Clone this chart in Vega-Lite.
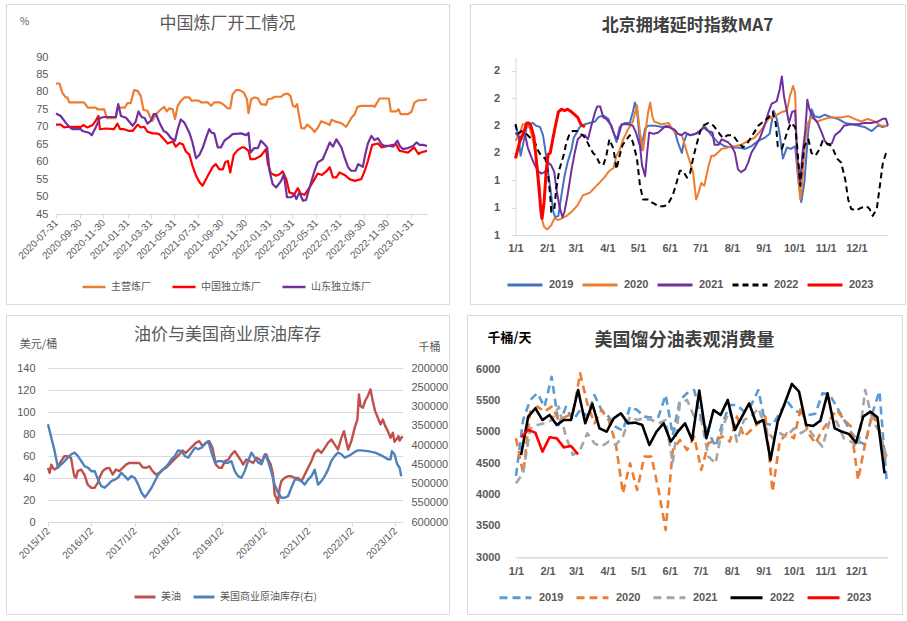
{
"$schema": "https://vega.github.io/schema/vega-lite/v6.json",
"background": "white",
"padding": {"left": 5, "top": 3, "right": 5, "bottom": 5},
"config": {
  "view": {"stroke": "#d9d9d9", "strokeWidth": 1},
  "font": "Noto Sans CJK SC",
  "axis": {"grid": false, "labelColor": "#595959", "domainColor": "#d9d9d9", "tickColor": "#d9d9d9", "labelFlush": false, "labelOverlap": false},
  "legend": {"padding": 0, "labelColor": "#595959", "symbolType": "stroke"},
  "line": {"strokeCap": "butt", "strokeJoin": "round"}
},
"spacing": 9,
"resolve": {"scale": {"color": "independent", "strokeDash": "independent"}, "legend": {"color": "independent", "strokeDash": "independent"}},
"datasets": {
"p1": [
{"s":"主营炼厂","d":"2020-07-31","v":82.4},{"s":"主营炼厂","d":"2020-08-09","v":82.4},{"s":"主营炼厂","d":"2020-08-16","v":79.8},{"s":"主营炼厂","d":"2020-08-25","v":78.4},{"s":"主营炼厂","d":"2020-08-29","v":78.4},{"s":"主营炼厂","d":"2020-09-03","v":77.0},{"s":"主营炼厂","d":"2020-10-11","v":77.0},{"s":"主营炼厂","d":"2020-10-21","v":75.5},{"s":"主营炼厂","d":"2020-11-10","v":75.5},{"s":"主营炼厂","d":"2020-11-15","v":75.0},{"s":"主营炼厂","d":"2020-12-02","v":75.0},{"s":"主营炼厂","d":"2020-12-09","v":72.5},{"s":"主营炼厂","d":"2020-12-31","v":72.5},{"s":"主营炼厂","d":"2021-01-05","v":75.5},{"s":"主营炼厂","d":"2021-01-24","v":75.5},{"s":"主营炼厂","d":"2021-01-31","v":76.8},{"s":"主营炼厂","d":"2021-02-08","v":76.8},{"s":"主营炼厂","d":"2021-02-17","v":80.5},{"s":"主营炼厂","d":"2021-02-26","v":80.3},{"s":"主营炼厂","d":"2021-03-06","v":78.8},{"s":"主营炼厂","d":"2021-03-13","v":74.8},{"s":"主营炼厂","d":"2021-03-23","v":74.6},{"s":"主营炼厂","d":"2021-03-30","v":72.8},{"s":"主营炼厂","d":"2021-04-05","v":71.7},{"s":"主营炼厂","d":"2021-04-14","v":73.6},{"s":"主营炼厂","d":"2021-04-27","v":75.0},{"s":"主营炼厂","d":"2021-05-05","v":75.7},{"s":"主营炼厂","d":"2021-05-12","v":74.4},{"s":"主营炼厂","d":"2021-05-18","v":75.3},{"s":"主营炼厂","d":"2021-05-27","v":75.0},{"s":"主营炼厂","d":"2021-06-02","v":72.2},{"s":"主营炼厂","d":"2021-06-09","v":76.0},{"s":"主营炼厂","d":"2021-06-17","v":77.4},{"s":"主营炼厂","d":"2021-06-26","v":78.4},{"s":"主营炼厂","d":"2021-07-09","v":78.4},{"s":"主营炼厂","d":"2021-07-15","v":77.4},{"s":"主营炼厂","d":"2021-07-22","v":77.6},{"s":"主营炼厂","d":"2021-08-04","v":77.4},{"s":"主营炼厂","d":"2021-08-08","v":77.0},{"s":"主营炼厂","d":"2021-08-25","v":77.0},{"s":"主营炼厂","d":"2021-09-03","v":76.0},{"s":"主营炼厂","d":"2021-09-11","v":77.0},{"s":"主营炼厂","d":"2021-09-24","v":77.0},{"s":"主营炼厂","d":"2021-10-03","v":76.5},{"s":"主营炼厂","d":"2021-10-16","v":75.3},{"s":"主营炼厂","d":"2021-10-22","v":75.3},{"s":"主营炼厂","d":"2021-10-28","v":79.3},{"s":"主营炼厂","d":"2021-11-06","v":80.5},{"s":"主营炼厂","d":"2021-11-15","v":80.5},{"s":"主营炼厂","d":"2021-11-26","v":79.8},{"s":"主营炼厂","d":"2021-12-04","v":77.9},{"s":"主营炼厂","d":"2021-12-08","v":73.9},{"s":"主营炼厂","d":"2021-12-15","v":77.9},{"s":"主营炼厂","d":"2021-12-23","v":78.4},{"s":"主营炼厂","d":"2022-01-01","v":78.2},{"s":"主营炼厂","d":"2022-01-09","v":76.5},{"s":"主营炼厂","d":"2022-01-22","v":76.3},{"s":"主营炼厂","d":"2022-01-27","v":77.9},{"s":"主营炼厂","d":"2022-02-06","v":78.1},{"s":"主营炼厂","d":"2022-02-13","v":78.6},{"s":"主营炼厂","d":"2022-03-02","v":78.6},{"s":"主营炼厂","d":"2022-03-09","v":79.3},{"s":"主营炼厂","d":"2022-03-19","v":79.5},{"s":"主营炼厂","d":"2022-03-26","v":78.8},{"s":"主营炼厂","d":"2022-04-01","v":76.0},{"s":"主营炼厂","d":"2022-04-07","v":75.7},{"s":"主营炼厂","d":"2022-04-12","v":76.5},{"s":"主营炼厂","d":"2022-04-18","v":72.6},{"s":"主营炼厂","d":"2022-04-23","v":69.6},{"s":"主营炼厂","d":"2022-05-01","v":69.5},{"s":"主营炼厂","d":"2022-05-08","v":70.6},{"s":"主营炼厂","d":"2022-05-18","v":69.7},{"s":"主营炼厂","d":"2022-05-27","v":68.5},{"s":"主营炼厂","d":"2022-06-04","v":69.7},{"s":"主营炼厂","d":"2022-06-13","v":71.6},{"s":"主营炼厂","d":"2022-06-26","v":71.0},{"s":"主营炼厂","d":"2022-07-05","v":70.5},{"s":"主营炼厂","d":"2022-07-09","v":72.0},{"s":"主营炼厂","d":"2022-07-22","v":71.4},{"s":"主营炼厂","d":"2022-07-30","v":71.2},{"s":"主营炼厂","d":"2022-08-08","v":70.7},{"s":"主营炼厂","d":"2022-08-16","v":70.0},{"s":"主营炼厂","d":"2022-08-25","v":71.6},{"s":"主营炼厂","d":"2022-08-29","v":72.5},{"s":"主营炼厂","d":"2022-09-07","v":73.6},{"s":"主营炼厂","d":"2022-09-14","v":75.7},{"s":"主营炼厂","d":"2022-09-24","v":76.0},{"s":"主营炼厂","d":"2022-10-24","v":76.0},{"s":"主营炼厂","d":"2022-10-28","v":75.7},{"s":"主营炼厂","d":"2022-11-10","v":78.1},{"s":"主营炼厂","d":"2022-12-04","v":78.1},{"s":"主营炼厂","d":"2022-12-09","v":74.4},{"s":"主营炼厂","d":"2022-12-23","v":74.4},{"s":"主营炼厂","d":"2022-12-29","v":75.0},{"s":"主营炼厂","d":"2023-01-03","v":73.6},{"s":"主营炼厂","d":"2023-01-22","v":73.6},{"s":"主营炼厂","d":"2023-01-31","v":74.3},{"s":"主营炼厂","d":"2023-02-08","v":77.0},{"s":"主营炼厂","d":"2023-02-18","v":77.6},{"s":"主营炼厂","d":"2023-03-02","v":77.6},{"s":"主营炼厂","d":"2023-03-12","v":77.9},
{"s":"中国独立炼厂","d":"2020-07-31","v":70.6},{"s":"中国独立炼厂","d":"2020-08-12","v":70.6},{"s":"中国独立炼厂","d":"2020-08-21","v":69.8},{"s":"中国独立炼厂","d":"2020-08-29","v":70.0},{"s":"中国独立炼厂","d":"2020-09-11","v":70.0},{"s":"中国独立炼厂","d":"2020-10-03","v":70.0},{"s":"中国独立炼厂","d":"2020-10-09","v":70.5},{"s":"中国独立炼厂","d":"2020-10-20","v":69.8},{"s":"中国独立炼厂","d":"2020-11-02","v":70.5},{"s":"中国独立炼厂","d":"2020-11-10","v":71.7},{"s":"中国独立炼厂","d":"2020-11-17","v":73.1},{"s":"中国独立炼厂","d":"2020-11-21","v":69.3},{"s":"中国独立炼厂","d":"2020-12-06","v":69.5},{"s":"中国独立炼厂","d":"2020-12-27","v":69.3},{"s":"中国独立炼厂","d":"2021-01-05","v":70.9},{"s":"中国独立炼厂","d":"2021-01-12","v":69.3},{"s":"中国独立炼厂","d":"2021-01-22","v":69.3},{"s":"中国独立炼厂","d":"2021-02-04","v":68.8},{"s":"中国独立炼厂","d":"2021-02-13","v":68.8},{"s":"中国独立炼厂","d":"2021-02-26","v":70.6},{"s":"中国独立炼厂","d":"2021-03-06","v":69.8},{"s":"中国独立炼厂","d":"2021-03-15","v":70.0},{"s":"中国独立炼厂","d":"2021-03-23","v":68.6},{"s":"中国独立炼厂","d":"2021-04-05","v":68.1},{"s":"中国独立炼厂","d":"2021-04-14","v":68.1},{"s":"中国独立炼厂","d":"2021-04-22","v":67.9},{"s":"中国独立炼厂","d":"2021-05-05","v":66.4},{"s":"中国独立炼厂","d":"2021-05-14","v":65.2},{"s":"中国独立炼厂","d":"2021-05-27","v":65.8},{"s":"中国独立炼厂","d":"2021-06-04","v":64.3},{"s":"中国独立炼厂","d":"2021-06-13","v":65.3},{"s":"中国独立炼厂","d":"2021-06-22","v":65.0},{"s":"中国独立炼厂","d":"2021-06-30","v":62.9},{"s":"中国独立炼厂","d":"2021-07-09","v":62.0},{"s":"中国独立炼厂","d":"2021-07-17","v":58.8},{"s":"中国独立炼厂","d":"2021-07-26","v":56.0},{"s":"中国独立炼厂","d":"2021-08-04","v":54.1},{"s":"中国独立炼厂","d":"2021-08-12","v":53.1},{"s":"中国独立炼厂","d":"2021-08-21","v":55.0},{"s":"中国独立炼厂","d":"2021-08-29","v":56.7},{"s":"中国独立炼厂","d":"2021-09-07","v":58.5},{"s":"中国独立炼厂","d":"2021-09-15","v":59.3},{"s":"中国独立炼厂","d":"2021-09-24","v":57.8},{"s":"中国独立炼厂","d":"2021-10-03","v":57.8},{"s":"中国独立炼厂","d":"2021-10-09","v":59.8},{"s":"中国独立炼厂","d":"2021-10-16","v":60.2},{"s":"中国独立炼厂","d":"2021-10-22","v":56.9},{"s":"中国独立炼厂","d":"2021-10-31","v":62.0},{"s":"中国独立炼厂","d":"2021-11-10","v":63.3},{"s":"中国独立炼厂","d":"2021-11-21","v":64.1},{"s":"中国独立炼厂","d":"2021-11-27","v":64.1},{"s":"中国独立炼厂","d":"2021-12-08","v":63.1},{"s":"中国独立炼厂","d":"2021-12-13","v":60.7},{"s":"中国独立炼厂","d":"2021-12-23","v":60.7},{"s":"中国独立炼厂","d":"2022-01-09","v":61.7},{"s":"中国独立炼厂","d":"2022-01-22","v":63.6},{"s":"中国独立炼厂","d":"2022-01-27","v":59.3},{"s":"中国独立炼厂","d":"2022-02-04","v":56.6},{"s":"中国独立炼厂","d":"2022-02-17","v":56.0},{"s":"中国独立炼厂","d":"2022-02-26","v":56.4},{"s":"中国独立炼厂","d":"2022-03-06","v":57.2},{"s":"中国独立炼厂","d":"2022-03-15","v":55.0},{"s":"中国独立炼厂","d":"2022-03-23","v":51.2},{"s":"中国独立炼厂","d":"2022-04-05","v":50.7},{"s":"中国独立炼厂","d":"2022-04-14","v":52.4},{"s":"中国独立炼厂","d":"2022-04-21","v":50.9},{"s":"中国独立炼厂","d":"2022-05-01","v":50.5},{"s":"中国独立炼厂","d":"2022-05-14","v":52.6},{"s":"中国独立炼厂","d":"2022-05-27","v":55.0},{"s":"中国独立炼厂","d":"2022-06-04","v":56.6},{"s":"中国独立炼厂","d":"2022-06-15","v":56.2},{"s":"中国独立炼厂","d":"2022-06-26","v":57.2},{"s":"中国独立炼厂","d":"2022-07-05","v":58.4},{"s":"中国独立炼厂","d":"2022-07-13","v":55.5},{"s":"中国独立炼厂","d":"2022-07-22","v":55.5},{"s":"中国独立炼厂","d":"2022-07-30","v":56.9},{"s":"中国独立炼厂","d":"2022-08-12","v":56.2},{"s":"中国独立炼厂","d":"2022-08-25","v":55.0},{"s":"中国独立炼厂","d":"2022-09-07","v":54.5},{"s":"中国独立炼厂","d":"2022-09-24","v":55.0},{"s":"中国独立炼厂","d":"2022-10-03","v":57.4},{"s":"中国独立炼厂","d":"2022-10-11","v":60.2},{"s":"中国独立炼厂","d":"2022-10-22","v":64.8},{"s":"中国独立炼厂","d":"2022-11-06","v":65.2},{"s":"中国独立炼厂","d":"2022-11-15","v":64.1},{"s":"中国独立炼厂","d":"2022-12-02","v":64.5},{"s":"中国独立炼厂","d":"2022-12-15","v":64.8},{"s":"中国独立炼厂","d":"2022-12-23","v":64.8},{"s":"中国独立炼厂","d":"2023-01-01","v":63.1},{"s":"中国独立炼厂","d":"2023-01-09","v":62.9},{"s":"中国独立炼厂","d":"2023-01-22","v":62.6},{"s":"中国独立炼厂","d":"2023-02-07","v":64.1},{"s":"中国独立炼厂","d":"2023-02-18","v":62.2},{"s":"中国独立炼厂","d":"2023-02-26","v":62.7},{"s":"中国独立炼厂","d":"2023-03-12","v":63.1},
{"s":"山东独立炼厂","d":"2020-07-31","v":73.8},{"s":"山东独立炼厂","d":"2020-08-12","v":73.1},{"s":"山东独立炼厂","d":"2020-08-25","v":71.2},{"s":"山东独立炼厂","d":"2020-09-03","v":70.0},{"s":"山东独立炼厂","d":"2020-09-11","v":69.3},{"s":"山东独立炼厂","d":"2020-10-03","v":69.3},{"s":"山东独立炼厂","d":"2020-10-07","v":68.8},{"s":"山东独立炼厂","d":"2020-10-24","v":68.3},{"s":"山东独立炼厂","d":"2020-10-31","v":67.6},{"s":"山东独立炼厂","d":"2020-11-10","v":69.8},{"s":"山东独立炼厂","d":"2020-11-21","v":72.5},{"s":"山东独立炼厂","d":"2020-12-02","v":72.8},{"s":"山东独立炼厂","d":"2020-12-15","v":72.8},{"s":"山东独立炼厂","d":"2021-01-01","v":72.8},{"s":"山东独立炼厂","d":"2021-01-07","v":76.5},{"s":"山东独立炼厂","d":"2021-01-14","v":73.1},{"s":"山东独立炼厂","d":"2021-01-27","v":72.6},{"s":"山东独立炼厂","d":"2021-02-13","v":70.3},{"s":"山东独立炼厂","d":"2021-02-21","v":71.5},{"s":"山东独立炼厂","d":"2021-02-28","v":74.4},{"s":"山东独立炼厂","d":"2021-03-08","v":72.8},{"s":"山东独立炼厂","d":"2021-03-16","v":72.5},{"s":"山东独立炼厂","d":"2021-03-23","v":70.9},{"s":"山东独立炼厂","d":"2021-04-01","v":71.7},{"s":"山东独立炼厂","d":"2021-04-08","v":73.6},{"s":"山东独立炼厂","d":"2021-04-14","v":73.6},{"s":"山东独立炼厂","d":"2021-04-25","v":70.7},{"s":"山东独立炼厂","d":"2021-05-04","v":68.8},{"s":"山东独立炼厂","d":"2021-05-12","v":68.3},{"s":"山东独立炼厂","d":"2021-05-23","v":66.7},{"s":"山东独立炼厂","d":"2021-06-02","v":66.0},{"s":"山东独立炼厂","d":"2021-06-09","v":69.3},{"s":"山东独立炼厂","d":"2021-06-17","v":72.1},{"s":"山东独立炼厂","d":"2021-06-26","v":71.2},{"s":"山东独立炼厂","d":"2021-07-09","v":68.3},{"s":"山东独立炼厂","d":"2021-07-17","v":65.5},{"s":"山东独立炼厂","d":"2021-07-26","v":61.0},{"s":"山东独立炼厂","d":"2021-08-04","v":62.0},{"s":"山东独立炼厂","d":"2021-08-12","v":63.9},{"s":"山东独立炼厂","d":"2021-08-21","v":66.9},{"s":"山东独立炼厂","d":"2021-08-29","v":69.3},{"s":"山东独立炼厂","d":"2021-09-04","v":68.3},{"s":"山东独立炼厂","d":"2021-09-11","v":68.1},{"s":"山东独立炼厂","d":"2021-09-20","v":64.1},{"s":"山东独立炼厂","d":"2021-09-28","v":64.1},{"s":"山东独立炼厂","d":"2021-10-07","v":66.0},{"s":"山东独立炼厂","d":"2021-10-20","v":67.1},{"s":"山东独立炼厂","d":"2021-10-28","v":67.9},{"s":"山东独立炼厂","d":"2021-11-19","v":68.1},{"s":"山东独立炼厂","d":"2021-12-02","v":67.6},{"s":"山东独立炼厂","d":"2021-12-08","v":68.3},{"s":"山东独立炼厂","d":"2021-12-13","v":62.6},{"s":"山东独立炼厂","d":"2021-12-23","v":63.9},{"s":"山东独立炼厂","d":"2022-01-01","v":63.9},{"s":"山东独立炼厂","d":"2022-01-09","v":66.0},{"s":"山东独立炼厂","d":"2022-01-18","v":65.0},{"s":"山东独立炼厂","d":"2022-01-25","v":64.1},{"s":"山东独立炼厂","d":"2022-01-31","v":57.4},{"s":"山东独立炼厂","d":"2022-02-08","v":53.6},{"s":"山东独立炼厂","d":"2022-02-17","v":52.6},{"s":"山东独立炼厂","d":"2022-03-02","v":54.5},{"s":"山东独立炼厂","d":"2022-03-09","v":56.4},{"s":"山东独立炼厂","d":"2022-03-17","v":49.8},{"s":"山东独立炼厂","d":"2022-03-28","v":49.8},{"s":"山东独立炼厂","d":"2022-04-05","v":50.5},{"s":"山东独立炼厂","d":"2022-04-10","v":49.3},{"s":"山东独立炼厂","d":"2022-04-18","v":51.2},{"s":"山东独立炼厂","d":"2022-04-27","v":48.8},{"s":"山东独立炼厂","d":"2022-05-05","v":49.0},{"s":"山东独立炼厂","d":"2022-05-14","v":52.6},{"s":"山东独立炼厂","d":"2022-05-27","v":57.4},{"s":"山东独立炼厂","d":"2022-06-04","v":59.8},{"s":"山东独立炼厂","d":"2022-06-17","v":60.7},{"s":"山东独立炼厂","d":"2022-06-26","v":63.1},{"s":"山东独立炼厂","d":"2022-07-05","v":65.5},{"s":"山东独立炼厂","d":"2022-07-13","v":64.3},{"s":"山东独立炼厂","d":"2022-07-22","v":66.4},{"s":"山东独立炼厂","d":"2022-08-04","v":64.1},{"s":"山东独立炼厂","d":"2022-08-12","v":61.2},{"s":"山东独立炼厂","d":"2022-08-21","v":58.4},{"s":"山东独立炼厂","d":"2022-08-29","v":57.4},{"s":"山东独立炼厂","d":"2022-09-09","v":57.4},{"s":"山东独立炼厂","d":"2022-09-16","v":59.3},{"s":"山东独立炼厂","d":"2022-09-28","v":58.5},{"s":"山东独立炼厂","d":"2022-10-04","v":62.0},{"s":"山东独立炼厂","d":"2022-10-11","v":65.2},{"s":"山东独立炼厂","d":"2022-10-20","v":67.4},{"s":"山东独立炼厂","d":"2022-10-28","v":66.2},{"s":"山东独立炼厂","d":"2022-11-06","v":66.7},{"s":"山东独立炼厂","d":"2022-11-15","v":65.0},{"s":"山东独立炼厂","d":"2022-11-23","v":64.5},{"s":"山东独立炼厂","d":"2022-12-06","v":64.5},{"s":"山东独立炼厂","d":"2022-12-15","v":64.3},{"s":"山东独立炼厂","d":"2022-12-26","v":66.0},{"s":"山东独立炼厂","d":"2023-01-01","v":64.5},{"s":"山东独立炼厂","d":"2023-01-09","v":63.6},{"s":"山东独立炼厂","d":"2023-01-22","v":63.9},{"s":"山东独立炼厂","d":"2023-02-04","v":64.5},{"s":"山东独立炼厂","d":"2023-02-13","v":65.5},{"s":"山东独立炼厂","d":"2023-02-21","v":64.8},{"s":"山东独立炼厂","d":"2023-03-02","v":64.8},{"s":"山东独立炼厂","d":"2023-03-12","v":64.5}
],
"p2": [
{"s":"2019","d":0,"v":1.81},{"s":"2019","d":3,"v":1.72},{"s":"2019","d":5,"v":1.58},{"s":"2019","d":7,"v":1.65},{"s":"2019","d":11,"v":1.79},{"s":"2019","d":14,"v":1.81},{"s":"2019","d":17,"v":1.82},{"s":"2019","d":20,"v":1.8},{"s":"2019","d":24,"v":1.79},{"s":"2019","d":27,"v":1.73},{"s":"2019","d":29,"v":1.63},{"s":"2019","d":32,"v":1.46},{"s":"2019","d":35,"v":1.29},{"s":"2019","d":37,"v":1.17},{"s":"2019","d":39,"v":1.13},{"s":"2019","d":42,"v":1.14},{"s":"2019","d":45,"v":1.29},{"s":"2019","d":48,"v":1.43},{"s":"2019","d":51,"v":1.53},{"s":"2019","d":55,"v":1.63},{"s":"2019","d":57,"v":1.71},{"s":"2019","d":60,"v":1.75},{"s":"2019","d":63,"v":1.79},{"s":"2019","d":68,"v":1.81},{"s":"2019","d":73,"v":1.82},{"s":"2019","d":78,"v":1.83},{"s":"2019","d":81,"v":1.86},{"s":"2019","d":84,"v":1.87},{"s":"2019","d":87,"v":1.87},{"s":"2019","d":91,"v":1.85},{"s":"2019","d":94,"v":1.79},{"s":"2019","d":97,"v":1.73},{"s":"2019","d":99,"v":1.68},{"s":"2019","d":102,"v":1.79},{"s":"2019","d":107,"v":1.82},{"s":"2019","d":112,"v":1.82},{"s":"2019","d":115,"v":1.9},{"s":"2019","d":117,"v":1.97},{"s":"2019","d":119,"v":1.92},{"s":"2019","d":121,"v":1.75},{"s":"2019","d":123,"v":1.62},{"s":"2019","d":127,"v":1.78},{"s":"2019","d":130,"v":1.8},{"s":"2019","d":137,"v":1.8},{"s":"2019","d":143,"v":1.79},{"s":"2019","d":150,"v":1.8},{"s":"2019","d":156,"v":1.76},{"s":"2019","d":159,"v":1.68},{"s":"2019","d":163,"v":1.6},{"s":"2019","d":165,"v":1.68},{"s":"2019","d":168,"v":1.74},{"s":"2019","d":172,"v":1.73},{"s":"2019","d":177,"v":1.74},{"s":"2019","d":182,"v":1.77},{"s":"2019","d":186,"v":1.79},{"s":"2019","d":192,"v":1.73},{"s":"2019","d":198,"v":1.68},{"s":"2019","d":205,"v":1.65},{"s":"2019","d":212,"v":1.64},{"s":"2019","d":218,"v":1.64},{"s":"2019","d":225,"v":1.63},{"s":"2019","d":231,"v":1.65},{"s":"2019","d":238,"v":1.69},{"s":"2019","d":244,"v":1.71},{"s":"2019","d":249,"v":1.74},{"s":"2019","d":253,"v":1.91},{"s":"2019","d":256,"v":1.85},{"s":"2019","d":259,"v":1.73},{"s":"2019","d":262,"v":1.56},{"s":"2019","d":266,"v":1.64},{"s":"2019","d":270,"v":1.63},{"s":"2019","d":274,"v":1.65},{"s":"2019","d":277,"v":1.41},{"s":"2019","d":280,"v":1.24},{"s":"2019","d":283,"v":1.38},{"s":"2019","d":287,"v":1.77},{"s":"2019","d":290,"v":1.92},{"s":"2019","d":293,"v":1.87},{"s":"2019","d":298,"v":1.86},{"s":"2019","d":303,"v":1.88},{"s":"2019","d":310,"v":1.86},{"s":"2019","d":316,"v":1.85},{"s":"2019","d":323,"v":1.82},{"s":"2019","d":329,"v":1.81},{"s":"2019","d":336,"v":1.8},{"s":"2019","d":342,"v":1.79},{"s":"2019","d":349,"v":1.76},{"s":"2019","d":355,"v":1.8},{"s":"2019","d":360,"v":1.79},{"s":"2019","d":365,"v":1.8},
{"s":"2020","d":0,"v":1.69},{"s":"2020","d":4,"v":1.74},{"s":"2020","d":7,"v":1.81},{"s":"2020","d":11,"v":1.81},{"s":"2020","d":14,"v":1.78},{"s":"2020","d":17,"v":1.7},{"s":"2020","d":20,"v":1.58},{"s":"2020","d":24,"v":1.34},{"s":"2020","d":25,"v":1.14},{"s":"2020","d":28,"v":1.06},{"s":"2020","d":31,"v":1.04},{"s":"2020","d":35,"v":1.07},{"s":"2020","d":38,"v":1.12},{"s":"2020","d":42,"v":1.11},{"s":"2020","d":45,"v":1.12},{"s":"2020","d":50,"v":1.14},{"s":"2020","d":55,"v":1.17},{"s":"2020","d":61,"v":1.22},{"s":"2020","d":66,"v":1.29},{"s":"2020","d":73,"v":1.31},{"s":"2020","d":78,"v":1.35},{"s":"2020","d":82,"v":1.38},{"s":"2020","d":87,"v":1.42},{"s":"2020","d":92,"v":1.47},{"s":"2020","d":96,"v":1.49},{"s":"2020","d":99,"v":1.58},{"s":"2020","d":102,"v":1.62},{"s":"2020","d":105,"v":1.69},{"s":"2020","d":110,"v":1.77},{"s":"2020","d":115,"v":1.83},{"s":"2020","d":119,"v":1.95},{"s":"2020","d":122,"v":1.75},{"s":"2020","d":125,"v":1.62},{"s":"2020","d":130,"v":1.9},{"s":"2020","d":132,"v":1.97},{"s":"2020","d":134,"v":1.87},{"s":"2020","d":136,"v":1.83},{"s":"2020","d":143,"v":1.81},{"s":"2020","d":150,"v":1.82},{"s":"2020","d":156,"v":1.75},{"s":"2020","d":163,"v":1.73},{"s":"2020","d":169,"v":1.58},{"s":"2020","d":174,"v":1.46},{"s":"2020","d":177,"v":1.26},{"s":"2020","d":179,"v":1.3},{"s":"2020","d":182,"v":1.38},{"s":"2020","d":185,"v":1.36},{"s":"2020","d":189,"v":1.5},{"s":"2020","d":192,"v":1.58},{"s":"2020","d":195,"v":1.58},{"s":"2020","d":202,"v":1.63},{"s":"2020","d":208,"v":1.64},{"s":"2020","d":215,"v":1.65},{"s":"2020","d":221,"v":1.66},{"s":"2020","d":228,"v":1.69},{"s":"2020","d":234,"v":1.71},{"s":"2020","d":241,"v":1.77},{"s":"2020","d":248,"v":1.85},{"s":"2020","d":254,"v":1.87},{"s":"2020","d":261,"v":1.9},{"s":"2020","d":266,"v":1.91},{"s":"2020","d":269,"v":2.02},{"s":"2020","d":272,"v":2.09},{"s":"2020","d":274,"v":2.04},{"s":"2020","d":276,"v":1.51},{"s":"2020","d":279,"v":1.26},{"s":"2020","d":281,"v":1.38},{"s":"2020","d":284,"v":1.7},{"s":"2020","d":287,"v":1.83},{"s":"2020","d":290,"v":1.86},{"s":"2020","d":296,"v":1.83},{"s":"2020","d":303,"v":1.85},{"s":"2020","d":310,"v":1.86},{"s":"2020","d":319,"v":1.86},{"s":"2020","d":326,"v":1.87},{"s":"2020","d":332,"v":1.85},{"s":"2020","d":339,"v":1.83},{"s":"2020","d":345,"v":1.85},{"s":"2020","d":352,"v":1.83},{"s":"2020","d":358,"v":1.8},{"s":"2020","d":365,"v":1.8},
{"s":"2021","d":0,"v":1.75},{"s":"2021","d":4,"v":1.71},{"s":"2021","d":9,"v":1.75},{"s":"2021","d":12,"v":1.64},{"s":"2021","d":16,"v":1.56},{"s":"2021","d":19,"v":1.51},{"s":"2021","d":22,"v":1.47},{"s":"2021","d":25,"v":1.45},{"s":"2021","d":29,"v":1.46},{"s":"2021","d":32,"v":1.53},{"s":"2021","d":35,"v":1.51},{"s":"2021","d":38,"v":1.46},{"s":"2021","d":40,"v":1.34},{"s":"2021","d":43,"v":1.21},{"s":"2021","d":46,"v":1.13},{"s":"2021","d":48,"v":1.17},{"s":"2021","d":51,"v":1.29},{"s":"2021","d":55,"v":1.48},{"s":"2021","d":58,"v":1.6},{"s":"2021","d":61,"v":1.7},{"s":"2021","d":65,"v":1.73},{"s":"2021","d":68,"v":1.73},{"s":"2021","d":71,"v":1.7},{"s":"2021","d":74,"v":1.79},{"s":"2021","d":78,"v":1.9},{"s":"2021","d":80,"v":1.94},{"s":"2021","d":83,"v":1.94},{"s":"2021","d":86,"v":1.86},{"s":"2021","d":89,"v":1.85},{"s":"2021","d":94,"v":1.8},{"s":"2021","d":97,"v":1.73},{"s":"2021","d":100,"v":1.7},{"s":"2021","d":104,"v":1.81},{"s":"2021","d":110,"v":1.81},{"s":"2021","d":115,"v":1.8},{"s":"2021","d":118,"v":1.75},{"s":"2021","d":122,"v":1.65},{"s":"2021","d":124,"v":1.51},{"s":"2021","d":127,"v":1.43},{"s":"2021","d":129,"v":1.6},{"s":"2021","d":131,"v":1.75},{"s":"2021","d":135,"v":1.74},{"s":"2021","d":140,"v":1.75},{"s":"2021","d":143,"v":1.77},{"s":"2021","d":146,"v":1.79},{"s":"2021","d":150,"v":1.79},{"s":"2021","d":153,"v":1.78},{"s":"2021","d":156,"v":1.77},{"s":"2021","d":159,"v":1.74},{"s":"2021","d":163,"v":1.73},{"s":"2021","d":166,"v":1.75},{"s":"2021","d":171,"v":1.73},{"s":"2021","d":176,"v":1.74},{"s":"2021","d":181,"v":1.76},{"s":"2021","d":184,"v":1.79},{"s":"2021","d":189,"v":1.76},{"s":"2021","d":193,"v":1.75},{"s":"2021","d":195,"v":1.66},{"s":"2021","d":199,"v":1.66},{"s":"2021","d":202,"v":1.7},{"s":"2021","d":208,"v":1.68},{"s":"2021","d":212,"v":1.65},{"s":"2021","d":215,"v":1.6},{"s":"2021","d":218,"v":1.48},{"s":"2021","d":221,"v":1.46},{"s":"2021","d":225,"v":1.48},{"s":"2021","d":228,"v":1.53},{"s":"2021","d":231,"v":1.6},{"s":"2021","d":235,"v":1.65},{"s":"2021","d":239,"v":1.7},{"s":"2021","d":244,"v":1.8},{"s":"2021","d":248,"v":1.9},{"s":"2021","d":251,"v":1.96},{"s":"2021","d":256,"v":1.98},{"s":"2021","d":259,"v":2.07},{"s":"2021","d":261,"v":2.16},{"s":"2021","d":263,"v":2.02},{"s":"2021","d":266,"v":1.9},{"s":"2021","d":268,"v":1.82},{"s":"2021","d":271,"v":1.9},{"s":"2021","d":274,"v":1.91},{"s":"2021","d":276,"v":1.58},{"s":"2021","d":279,"v":1.38},{"s":"2021","d":281,"v":1.58},{"s":"2021","d":284,"v":1.77},{"s":"2021","d":286,"v":1.99},{"s":"2021","d":288,"v":1.92},{"s":"2021","d":292,"v":1.86},{"s":"2021","d":296,"v":1.82},{"s":"2021","d":300,"v":1.75},{"s":"2021","d":303,"v":1.69},{"s":"2021","d":306,"v":1.66},{"s":"2021","d":310,"v":1.67},{"s":"2021","d":313,"v":1.73},{"s":"2021","d":318,"v":1.76},{"s":"2021","d":322,"v":1.8},{"s":"2021","d":329,"v":1.81},{"s":"2021","d":336,"v":1.81},{"s":"2021","d":342,"v":1.82},{"s":"2021","d":349,"v":1.82},{"s":"2021","d":355,"v":1.83},{"s":"2021","d":360,"v":1.85},{"s":"2021","d":363,"v":1.85},{"s":"2021","d":365,"v":1.8},
{"s":"2022","d":0,"v":1.81},{"s":"2022","d":2,"v":1.74},{"s":"2022","d":6,"v":1.76},{"s":"2022","d":9,"v":1.75},{"s":"2022","d":12,"v":1.73},{"s":"2022","d":16,"v":1.7},{"s":"2022","d":19,"v":1.68},{"s":"2022","d":22,"v":1.62},{"s":"2022","d":25,"v":1.58},{"s":"2022","d":29,"v":1.56},{"s":"2022","d":31,"v":1.51},{"s":"2022","d":34,"v":1.29},{"s":"2022","d":35,"v":1.17},{"s":"2022","d":38,"v":1.19},{"s":"2022","d":40,"v":1.34},{"s":"2022","d":43,"v":1.48},{"s":"2022","d":47,"v":1.58},{"s":"2022","d":50,"v":1.68},{"s":"2022","d":53,"v":1.74},{"s":"2022","d":56,"v":1.76},{"s":"2022","d":60,"v":1.76},{"s":"2022","d":63,"v":1.74},{"s":"2022","d":66,"v":1.73},{"s":"2022","d":69,"v":1.7},{"s":"2022","d":73,"v":1.64},{"s":"2022","d":76,"v":1.6},{"s":"2022","d":79,"v":1.58},{"s":"2022","d":82,"v":1.53},{"s":"2022","d":86,"v":1.51},{"s":"2022","d":89,"v":1.58},{"s":"2022","d":92,"v":1.7},{"s":"2022","d":96,"v":1.63},{"s":"2022","d":99,"v":1.48},{"s":"2022","d":102,"v":1.58},{"s":"2022","d":105,"v":1.66},{"s":"2022","d":109,"v":1.7},{"s":"2022","d":112,"v":1.73},{"s":"2022","d":115,"v":1.68},{"s":"2022","d":119,"v":1.56},{"s":"2022","d":122,"v":1.36},{"s":"2022","d":125,"v":1.26},{"s":"2022","d":130,"v":1.26},{"s":"2022","d":133,"v":1.24},{"s":"2022","d":136,"v":1.23},{"s":"2022","d":140,"v":1.21},{"s":"2022","d":145,"v":1.21},{"s":"2022","d":149,"v":1.22},{"s":"2022","d":154,"v":1.29},{"s":"2022","d":157,"v":1.36},{"s":"2022","d":161,"v":1.47},{"s":"2022","d":164,"v":1.47},{"s":"2022","d":168,"v":1.42},{"s":"2022","d":171,"v":1.45},{"s":"2022","d":174,"v":1.56},{"s":"2022","d":177,"v":1.65},{"s":"2022","d":181,"v":1.76},{"s":"2022","d":184,"v":1.8},{"s":"2022","d":189,"v":1.82},{"s":"2022","d":194,"v":1.8},{"s":"2022","d":198,"v":1.76},{"s":"2022","d":203,"v":1.71},{"s":"2022","d":208,"v":1.73},{"s":"2022","d":213,"v":1.73},{"s":"2022","d":218,"v":1.68},{"s":"2022","d":223,"v":1.64},{"s":"2022","d":228,"v":1.68},{"s":"2022","d":233,"v":1.74},{"s":"2022","d":238,"v":1.8},{"s":"2022","d":243,"v":1.83},{"s":"2022","d":248,"v":1.86},{"s":"2022","d":252,"v":1.9},{"s":"2022","d":255,"v":1.82},{"s":"2022","d":257,"v":1.65},{"s":"2022","d":261,"v":1.63},{"s":"2022","d":264,"v":1.7},{"s":"2022","d":267,"v":1.77},{"s":"2022","d":270,"v":1.82},{"s":"2022","d":274,"v":1.79},{"s":"2022","d":276,"v":1.65},{"s":"2022","d":279,"v":1.36},{"s":"2022","d":281,"v":1.51},{"s":"2022","d":283,"v":1.65},{"s":"2022","d":287,"v":1.7},{"s":"2022","d":290,"v":1.6},{"s":"2022","d":294,"v":1.58},{"s":"2022","d":298,"v":1.63},{"s":"2022","d":301,"v":1.69},{"s":"2022","d":305,"v":1.67},{"s":"2022","d":308,"v":1.66},{"s":"2022","d":311,"v":1.63},{"s":"2022","d":315,"v":1.56},{"s":"2022","d":319,"v":1.53},{"s":"2022","d":323,"v":1.41},{"s":"2022","d":326,"v":1.26},{"s":"2022","d":329,"v":1.19},{"s":"2022","d":334,"v":1.18},{"s":"2022","d":339,"v":1.2},{"s":"2022","d":344,"v":1.21},{"s":"2022","d":347,"v":1.19},{"s":"2022","d":350,"v":1.14},{"s":"2022","d":354,"v":1.19},{"s":"2022","d":357,"v":1.36},{"s":"2022","d":360,"v":1.53},{"s":"2022","d":364,"v":1.62},
{"s":"2023","d":0,"v":1.56},{"s":"2023","d":4,"v":1.68},{"s":"2023","d":7,"v":1.73},{"s":"2023","d":11,"v":1.82},{"s":"2023","d":13,"v":1.82},{"s":"2023","d":15,"v":1.8},{"s":"2023","d":18,"v":1.72},{"s":"2023","d":20,"v":1.58},{"s":"2023","d":23,"v":1.34},{"s":"2023","d":25,"v":1.17},{"s":"2023","d":26,"v":1.12},{"s":"2023","d":28,"v":1.24},{"s":"2023","d":30,"v":1.46},{"s":"2023","d":32,"v":1.59},{"s":"2023","d":34,"v":1.6},{"s":"2023","d":37,"v":1.72},{"s":"2023","d":40,"v":1.83},{"s":"2023","d":42,"v":1.9},{"s":"2023","d":45,"v":1.92},{"s":"2023","d":48,"v":1.91},{"s":"2023","d":51,"v":1.92},{"s":"2023","d":55,"v":1.9},{"s":"2023","d":58,"v":1.88},{"s":"2023","d":61,"v":1.86},{"s":"2023","d":64,"v":1.81},{"s":"2023","d":68,"v":1.79}
],
"p3": [
{"s":"美油","d":"2015-01-02","v":49.2},{"s":"美油","d":"2015-01-16","v":44.6},{"s":"美油","d":"2015-01-30","v":52},{"s":"美油","d":"2015-02-13","v":49},{"s":"美油","d":"2015-02-27","v":47.7},{"s":"美油","d":"2015-03-25","v":49.8},{"s":"美油","d":"2015-04-22","v":55.3},{"s":"美油","d":"2015-05-20","v":59.8},{"s":"美油","d":"2015-06-17","v":59.8},{"s":"美油","d":"2015-07-15","v":58.3},{"s":"美油","d":"2015-07-29","v":49.2},{"s":"美油","d":"2015-08-12","v":41.6},{"s":"美油","d":"2015-08-26","v":40},{"s":"美油","d":"2015-09-09","v":46.2},{"s":"美油","d":"2015-10-07","v":47.7},{"s":"美油","d":"2015-11-04","v":43.1},{"s":"美油","d":"2015-12-02","v":34},{"s":"美油","d":"2016-01-01","v":31},{"s":"美油","d":"2016-01-28","v":31},{"s":"美油","d":"2016-02-25","v":35.5},{"s":"美油","d":"2016-03-09","v":40.1},{"s":"美油","d":"2016-04-06","v":46.2},{"s":"美油","d":"2016-05-04","v":48.6},{"s":"美油","d":"2016-06-01","v":49.2},{"s":"美油","d":"2016-06-29","v":43.1},{"s":"美油","d":"2016-07-27","v":47.7},{"s":"美油","d":"2016-08-24","v":46.2},{"s":"美油","d":"2016-09-21","v":49.2},{"s":"美油","d":"2016-10-19","v":52.2},{"s":"美油","d":"2016-11-16","v":53.7},{"s":"美油","d":"2016-12-14","v":53.7},{"s":"美油","d":"2017-01-11","v":53.7},{"s":"美油","d":"2017-02-08","v":53.7},{"s":"美油","d":"2017-03-08","v":49.8},{"s":"美油","d":"2017-04-05","v":49.2},{"s":"美油","d":"2017-05-03","v":50.7},{"s":"美油","d":"2017-05-31","v":46.2},{"s":"美油","d":"2017-06-28","v":43.1},{"s":"美油","d":"2017-07-26","v":44.6},{"s":"美油","d":"2017-08-23","v":47.7},{"s":"美油","d":"2017-09-20","v":49.2},{"s":"美油","d":"2017-10-18","v":52.2},{"s":"美油","d":"2017-11-15","v":55.3},{"s":"美油","d":"2017-12-13","v":58.3},{"s":"美油","d":"2018-01-10","v":61.3},{"s":"美油","d":"2018-02-07","v":65},{"s":"美油","d":"2018-03-07","v":62.8},{"s":"美油","d":"2018-04-04","v":65.9},{"s":"美油","d":"2018-05-02","v":68.9},{"s":"美油","d":"2018-05-30","v":72},{"s":"美油","d":"2018-06-27","v":73.5},{"s":"美油","d":"2018-07-25","v":68.9},{"s":"美油","d":"2018-08-22","v":72},{"s":"美油","d":"2018-09-19","v":73.5},{"s":"美油","d":"2018-10-17","v":67.4},{"s":"美油","d":"2018-11-14","v":52.2},{"s":"美油","d":"2018-12-12","v":49.2},{"s":"美油","d":"2019-01-02","v":49.2},{"s":"美油","d":"2019-01-30","v":55.3},{"s":"美油","d":"2019-02-27","v":56.8},{"s":"美油","d":"2019-03-25","v":61.3},{"s":"美油","d":"2019-04-22","v":64.4},{"s":"美油","d":"2019-05-20","v":59.8},{"s":"美油","d":"2019-06-17","v":55.3},{"s":"美油","d":"2019-07-01","v":52.2},{"s":"美油","d":"2019-07-29","v":56.8},{"s":"美油","d":"2019-08-26","v":55.3},{"s":"美油","d":"2019-09-24","v":53.7},{"s":"美油","d":"2019-10-22","v":58.3},{"s":"美油","d":"2019-11-19","v":56.8},{"s":"美油","d":"2019-12-03","v":53.7},{"s":"美油","d":"2019-12-25","v":59.8},{"s":"美油","d":"2020-01-14","v":61.3},{"s":"美油","d":"2020-01-28","v":56.8},{"s":"美油","d":"2020-02-19","v":52.2},{"s":"美油","d":"2020-03-09","v":43.1},{"s":"美油","d":"2020-03-23","v":24.9},{"s":"美油","d":"2020-04-06","v":21.9},{"s":"美油","d":"2020-04-20","v":17.3},{"s":"美油","d":"2020-05-04","v":31},{"s":"美油","d":"2020-05-18","v":37.1},{"s":"美油","d":"2020-06-15","v":40.1},{"s":"美油","d":"2020-07-13","v":41.6},{"s":"美油","d":"2020-08-10","v":41.6},{"s":"美油","d":"2020-09-08","v":40.1},{"s":"美油","d":"2020-10-06","v":40.1},{"s":"美油","d":"2020-11-03","v":37.1},{"s":"美油","d":"2020-12-01","v":43.1},{"s":"美油","d":"2020-12-29","v":49.2},{"s":"美油","d":"2021-01-26","v":55.3},{"s":"美油","d":"2021-02-23","v":62.9},{"s":"美油","d":"2021-03-23","v":65.9},{"s":"美油","d":"2021-04-20","v":62.9},{"s":"美油","d":"2021-05-18","v":67.4},{"s":"美油","d":"2021-06-15","v":72},{"s":"美油","d":"2021-07-12","v":75},{"s":"美油","d":"2021-08-09","v":70.5},{"s":"美油","d":"2021-09-07","v":65.9},{"s":"美油","d":"2021-10-05","v":76.5},{"s":"美油","d":"2021-10-27","v":82.6},{"s":"美油","d":"2021-11-02","v":79.6},{"s":"美油","d":"2021-12-01","v":65.9},{"s":"美油","d":"2021-12-28","v":73.5},{"s":"美油","d":"2022-01-25","v":85.6},{"s":"美油","d":"2022-02-17","v":93.2},{"s":"美油","d":"2022-03-02","v":116},{"s":"美油","d":"2022-03-15","v":105.5},{"s":"美油","d":"2022-04-04","v":103.9},{"s":"美油","d":"2022-04-23","v":110},{"s":"美油","d":"2022-05-15","v":114.5},{"s":"美油","d":"2022-06-07","v":120.6},{"s":"美油","d":"2022-06-26","v":110},{"s":"美油","d":"2022-07-16","v":100.8},{"s":"美油","d":"2022-08-08","v":94.8},{"s":"美油","d":"2022-08-30","v":88.7},{"s":"美油","d":"2022-09-19","v":93.2},{"s":"美油","d":"2022-10-09","v":87.2},{"s":"美油","d":"2022-10-31","v":82.6},{"s":"美油","d":"2022-11-23","v":76.5},{"s":"美油","d":"2022-12-12","v":81.1},{"s":"美油","d":"2022-12-26","v":73},{"s":"美油","d":"2023-01-10","v":75},{"s":"美油","d":"2023-01-29","v":78},{"s":"美油","d":"2023-02-07","v":74},{"s":"美油","d":"2023-02-21","v":76.5},{"s":"美油","d":"2023-03-05","v":78},
{"s":"美国商业原油库存(右)","d":"2015-01-02","v":346000},{"s":"美国商业原油库存(右)","d":"2015-01-30","v":381000},{"s":"美国商业原油库存(右)","d":"2015-02-27","v":416000},{"s":"美国商业原油库存(右)","d":"2015-03-27","v":459000},{"s":"美国商业原油库存(右)","d":"2015-04-24","v":450000},{"s":"美国商业原油库存(右)","d":"2015-05-22","v":442000},{"s":"美国商业原油库存(右)","d":"2015-06-19","v":433000},{"s":"美国商业原油库存(右)","d":"2015-07-17","v":424000},{"s":"美国商业原油库存(右)","d":"2015-08-14","v":420000},{"s":"美国商业原油库存(右)","d":"2015-09-11","v":429000},{"s":"美国商业原油库存(右)","d":"2015-10-09","v":442000},{"s":"美国商业原油库存(右)","d":"2015-11-06","v":455000},{"s":"美国商业原油库存(右)","d":"2015-12-04","v":459000},{"s":"美国商业原油库存(右)","d":"2016-01-02","v":468000},{"s":"美国商业原油库存(右)","d":"2016-01-30","v":468000},{"s":"美国商业原油库存(右)","d":"2016-02-27","v":490000},{"s":"美国商业原油库存(右)","d":"2016-03-26","v":507000},{"s":"美国商业原油库存(右)","d":"2016-04-23","v":511000},{"s":"美国商业原油库存(右)","d":"2016-05-21","v":503000},{"s":"美国商业原油库存(右)","d":"2016-06-18","v":494000},{"s":"美国商业原油库存(右)","d":"2016-07-16","v":490000},{"s":"美国商业原油库存(右)","d":"2016-08-13","v":485000},{"s":"美国商业原油库存(右)","d":"2016-09-10","v":472000},{"s":"美国商业原油库存(右)","d":"2016-10-08","v":481000},{"s":"美国商业原油库存(右)","d":"2016-11-05","v":490000},{"s":"美国商业原油库存(右)","d":"2016-12-03","v":481000},{"s":"美国商业原油库存(右)","d":"2016-12-31","v":485000},{"s":"美国商业原油库存(右)","d":"2017-01-30","v":503000},{"s":"美国商业原油库存(右)","d":"2017-02-27","v":524000},{"s":"美国商业原油库存(右)","d":"2017-03-27","v":536000},{"s":"美国商业原油库存(右)","d":"2017-04-24","v":524000},{"s":"美国商业原油库存(右)","d":"2017-05-22","v":511000},{"s":"美国商业原油库存(右)","d":"2017-06-19","v":494000},{"s":"美国商业原油库存(右)","d":"2017-07-17","v":477000},{"s":"美国商业原油库存(右)","d":"2017-08-14","v":468000},{"s":"美国商业原油库存(右)","d":"2017-09-11","v":459000},{"s":"美国商业原油库存(右)","d":"2017-10-09","v":450000},{"s":"美国商业原油库存(右)","d":"2017-11-06","v":437000},{"s":"美国商业原油库存(右)","d":"2017-12-04","v":429000},{"s":"美国商业原油库存(右)","d":"2018-01-01","v":414000},{"s":"美国商业原油库存(右)","d":"2018-01-30","v":416000},{"s":"美国商业原油库存(右)","d":"2018-02-27","v":429000},{"s":"美国商业原油库存(右)","d":"2018-03-27","v":433000},{"s":"美国商业原油库存(右)","d":"2018-04-24","v":420000},{"s":"美国商业原油库存(右)","d":"2018-05-22","v":407000},{"s":"美国商业原油库存(右)","d":"2018-06-19","v":411000},{"s":"美国商业原油库存(右)","d":"2018-07-17","v":407000},{"s":"美国商业原油库存(右)","d":"2018-08-14","v":398000},{"s":"美国商业原油库存(右)","d":"2018-09-11","v":390000},{"s":"美国商业原油库存(右)","d":"2018-10-09","v":420000},{"s":"美国商业原油库存(右)","d":"2018-11-06","v":446000},{"s":"美国商业原油库存(右)","d":"2018-12-04","v":442000},{"s":"美国商业原油库存(右)","d":"2019-01-02","v":442000},{"s":"美国商业原油库存(右)","d":"2019-01-30","v":446000},{"s":"美国商业原油库存(右)","d":"2019-02-27","v":446000},{"s":"美国商业原油库存(右)","d":"2019-03-25","v":442000},{"s":"美国商业原油库存(右)","d":"2019-04-22","v":468000},{"s":"美国商业原油库存(右)","d":"2019-05-20","v":481000},{"s":"美国商业原油库存(右)","d":"2019-06-17","v":485000},{"s":"美国商业原油库存(右)","d":"2019-07-15","v":468000},{"s":"美国商业原油库存(右)","d":"2019-08-12","v":442000},{"s":"美国商业原油库存(右)","d":"2019-09-10","v":420000},{"s":"美国商业原油库存(右)","d":"2019-10-08","v":433000},{"s":"美国商业原油库存(右)","d":"2019-11-05","v":446000},{"s":"美国商业原油库存(右)","d":"2019-12-03","v":450000},{"s":"美国商业原油库存(右)","d":"2020-01-01","v":424000},{"s":"美国商业原油库存(右)","d":"2020-01-28","v":442000},{"s":"美国商业原油库存(右)","d":"2020-02-25","v":472000},{"s":"美国商业原油库存(右)","d":"2020-03-23","v":503000},{"s":"美国商业原油库存(右)","d":"2020-04-20","v":524000},{"s":"美国商业原油库存(右)","d":"2020-05-18","v":537000},{"s":"美国商业原油库存(右)","d":"2020-06-15","v":537000},{"s":"美国商业原油库存(右)","d":"2020-07-13","v":533000},{"s":"美国商业原油库存(右)","d":"2020-08-10","v":511000},{"s":"美国商业原油库存(右)","d":"2020-09-08","v":490000},{"s":"美国商业原油库存(右)","d":"2020-10-06","v":490000},{"s":"美国商业原油库存(右)","d":"2020-11-03","v":494000},{"s":"美国商业原油库存(右)","d":"2020-12-01","v":503000},{"s":"美国商业原油库存(右)","d":"2020-12-29","v":490000},{"s":"美国商业原油库存(右)","d":"2021-01-26","v":481000},{"s":"美国商业原油库存(右)","d":"2021-02-23","v":464000},{"s":"美国商业原油库存(右)","d":"2021-03-23","v":503000},{"s":"美国商业原油库存(右)","d":"2021-04-20","v":494000},{"s":"美国商业原油库存(右)","d":"2021-05-18","v":481000},{"s":"美国商业原油库存(右)","d":"2021-06-15","v":464000},{"s":"美国商业原油库存(右)","d":"2021-07-12","v":442000},{"s":"美国商业原油库存(右)","d":"2021-08-09","v":429000},{"s":"美国商业原油库存(右)","d":"2021-09-07","v":420000},{"s":"美国商业原油库存(右)","d":"2021-10-05","v":424000},{"s":"美国商业原油库存(右)","d":"2021-11-02","v":433000},{"s":"美国商业原油库存(右)","d":"2021-11-30","v":429000},{"s":"美国商业原油库存(右)","d":"2021-12-28","v":424000},{"s":"美国商业原油库存(右)","d":"2022-01-25","v":418000},{"s":"美国商业原油库存(右)","d":"2022-02-22","v":414000},{"s":"美国商业原油库存(右)","d":"2022-03-20","v":414000},{"s":"美国商业原油库存(右)","d":"2022-05-15","v":416000},{"s":"美国商业原油库存(右)","d":"2022-07-16","v":420000},{"s":"美国商业原油库存(右)","d":"2022-09-19","v":429000},{"s":"美国商业原油库存(右)","d":"2022-10-31","v":437000},{"s":"美国商业原油库存(右)","d":"2022-11-23","v":437000},{"s":"美国商业原油库存(右)","d":"2022-12-04","v":416000},{"s":"美国商业原油库存(右)","d":"2022-12-26","v":424000},{"s":"美国商业原油库存(右)","d":"2023-01-18","v":450000},{"s":"美国商业原油库存(右)","d":"2023-02-07","v":459000},{"s":"美国商业原油库存(右)","d":"2023-02-21","v":481000}
],
"p4": [
{"s":"2019","d":0,"v":4300},{"s":"2019","d":7,"v":5190},{"s":"2019","d":14,"v":5510},{"s":"2019","d":21,"v":5620},{"s":"2019","d":28,"v":5400},{"s":"2019","d":35,"v":5880},{"s":"2019","d":42,"v":5110},{"s":"2019","d":49,"v":5400},{"s":"2019","d":56,"v":5190},{"s":"2019","d":63,"v":5350},{"s":"2019","d":70,"v":5250},{"s":"2019","d":77,"v":5590},{"s":"2019","d":84,"v":5350},{"s":"2019","d":91,"v":5245},{"s":"2019","d":98,"v":5080},{"s":"2019","d":105,"v":5020},{"s":"2019","d":112,"v":5404},{"s":"2019","d":119,"v":5350},{"s":"2019","d":126,"v":5245},{"s":"2019","d":133,"v":5230},{"s":"2019","d":140,"v":5245},{"s":"2019","d":147,"v":5590},{"s":"2019","d":154,"v":4950},{"s":"2019","d":161,"v":5511},{"s":"2019","d":168,"v":5617},{"s":"2019","d":175,"v":5670},{"s":"2019","d":182,"v":5200},{"s":"2019","d":189,"v":5000},{"s":"2019","d":196,"v":4766},{"s":"2019","d":203,"v":5150},{"s":"2019","d":210,"v":5431},{"s":"2019","d":217,"v":5430},{"s":"2019","d":224,"v":5324},{"s":"2019","d":231,"v":5430},{"s":"2019","d":238,"v":5670},{"s":"2019","d":245,"v":5130},{"s":"2019","d":252,"v":5112},{"s":"2019","d":259,"v":5300},{"s":"2019","d":266,"v":5500},{"s":"2019","d":273,"v":5350},{"s":"2019","d":280,"v":5300},{"s":"2019","d":287,"v":5270},{"s":"2019","d":294,"v":5290},{"s":"2019","d":301,"v":5617},{"s":"2019","d":308,"v":5600},{"s":"2019","d":315,"v":5400},{"s":"2019","d":322,"v":5200},{"s":"2019","d":329,"v":5000},{"s":"2019","d":336,"v":4850},{"s":"2019","d":343,"v":4800},{"s":"2019","d":350,"v":5300},{"s":"2019","d":357,"v":5650},{"s":"2019","d":364,"v":4230},
{"s":"2020","d":0,"v":4899},{"s":"2020","d":7,"v":4340},{"s":"2020","d":14,"v":5324},{"s":"2020","d":21,"v":5404},{"s":"2020","d":28,"v":5324},{"s":"2020","d":35,"v":5404},{"s":"2020","d":42,"v":5192},{"s":"2020","d":49,"v":5245},{"s":"2020","d":56,"v":5298},{"s":"2020","d":63,"v":5936},{"s":"2020","d":70,"v":5457},{"s":"2020","d":77,"v":5138},{"s":"2020","d":84,"v":5351},{"s":"2020","d":91,"v":5192},{"s":"2020","d":98,"v":4819},{"s":"2020","d":105,"v":4021},{"s":"2020","d":112,"v":4500},{"s":"2020","d":119,"v":4074},{"s":"2020","d":126,"v":4606},{"s":"2020","d":133,"v":4606},{"s":"2020","d":140,"v":4074},{"s":"2020","d":147,"v":3436},{"s":"2020","d":154,"v":4713},{"s":"2020","d":161,"v":4872},{"s":"2020","d":168,"v":4713},{"s":"2020","d":175,"v":4926},{"s":"2020","d":182,"v":4394},{"s":"2020","d":189,"v":4819},{"s":"2020","d":196,"v":4870},{"s":"2020","d":203,"v":4926},{"s":"2020","d":210,"v":4846},{"s":"2020","d":217,"v":5245},{"s":"2020","d":224,"v":4926},{"s":"2020","d":231,"v":5032},{"s":"2020","d":238,"v":5138},{"s":"2020","d":245,"v":5245},{"s":"2020","d":252,"v":4048},{"s":"2020","d":259,"v":4850},{"s":"2020","d":266,"v":4979},{"s":"2020","d":273,"v":4899},{"s":"2020","d":280,"v":5404},{"s":"2020","d":287,"v":4979},{"s":"2020","d":294,"v":4819},{"s":"2020","d":301,"v":5032},{"s":"2020","d":308,"v":5192},{"s":"2020","d":315,"v":5351},{"s":"2020","d":322,"v":5200},{"s":"2020","d":329,"v":5085},{"s":"2020","d":336,"v":4234},{"s":"2020","d":343,"v":4819},{"s":"2020","d":350,"v":5298},{"s":"2020","d":357,"v":5032},{"s":"2020","d":364,"v":4500},
{"s":"2021","d":0,"v":4180},{"s":"2021","d":7,"v":4340},{"s":"2021","d":14,"v":5058},{"s":"2021","d":21,"v":5112},{"s":"2021","d":28,"v":5138},{"s":"2021","d":35,"v":5190},{"s":"2021","d":42,"v":5404},{"s":"2021","d":49,"v":4926},{"s":"2021","d":56,"v":4633},{"s":"2021","d":63,"v":4713},{"s":"2021","d":70,"v":4979},{"s":"2021","d":77,"v":4819},{"s":"2021","d":84,"v":4766},{"s":"2021","d":91,"v":4846},{"s":"2021","d":98,"v":4793},{"s":"2021","d":105,"v":4926},{"s":"2021","d":112,"v":5245},{"s":"2021","d":119,"v":5192},{"s":"2021","d":126,"v":5218},{"s":"2021","d":133,"v":5192},{"s":"2021","d":140,"v":5138},{"s":"2021","d":147,"v":5190},{"s":"2021","d":154,"v":4500},{"s":"2021","d":161,"v":5457},{"s":"2021","d":168,"v":5511},{"s":"2021","d":175,"v":5245},{"s":"2021","d":182,"v":5190},{"s":"2021","d":189,"v":4606},{"s":"2021","d":196,"v":4500},{"s":"2021","d":203,"v":5085},{"s":"2021","d":210,"v":5351},{"s":"2021","d":217,"v":4846},{"s":"2021","d":224,"v":5192},{"s":"2021","d":231,"v":5245},{"s":"2021","d":238,"v":5378},{"s":"2021","d":245,"v":5085},{"s":"2021","d":252,"v":4900},{"s":"2021","d":259,"v":4979},{"s":"2021","d":266,"v":4926},{"s":"2021","d":273,"v":5058},{"s":"2021","d":280,"v":4979},{"s":"2021","d":287,"v":5058},{"s":"2021","d":294,"v":4899},{"s":"2021","d":301,"v":4766},{"s":"2021","d":308,"v":5165},{"s":"2021","d":315,"v":5165},{"s":"2021","d":322,"v":4899},{"s":"2021","d":329,"v":4846},{"s":"2021","d":336,"v":4766},{"s":"2021","d":343,"v":5670},{"s":"2021","d":350,"v":5192},{"s":"2021","d":357,"v":5000},{"s":"2021","d":364,"v":4606},
{"s":"2022","d":5,"v":4633},{"s":"2022","d":12,"v":5245},{"s":"2022","d":19,"v":5378},{"s":"2022","d":26,"v":5191},{"s":"2022","d":33,"v":5271},{"s":"2022","d":40,"v":5112},{"s":"2022","d":47,"v":5191},{"s":"2022","d":54,"v":5191},{"s":"2022","d":61,"v":5670},{"s":"2022","d":68,"v":5138},{"s":"2022","d":75,"v":5447},{"s":"2022","d":82,"v":5058},{"s":"2022","d":89,"v":5005},{"s":"2022","d":96,"v":5218},{"s":"2022","d":103,"v":5298},{"s":"2022","d":110,"v":5138},{"s":"2022","d":117,"v":5149},{"s":"2022","d":124,"v":5112},{"s":"2022","d":131,"v":4792},{"s":"2022","d":138,"v":5005},{"s":"2022","d":145,"v":5138},{"s":"2022","d":152,"v":4846},{"s":"2022","d":159,"v":5005},{"s":"2022","d":166,"v":5138},{"s":"2022","d":173,"v":4872},{"s":"2022","d":180,"v":5660},{"s":"2022","d":187,"v":4899},{"s":"2022","d":194,"v":5351},{"s":"2022","d":201,"v":5271},{"s":"2022","d":208,"v":5511},{"s":"2022","d":215,"v":5032},{"s":"2022","d":222,"v":5245},{"s":"2022","d":229,"v":5457},{"s":"2022","d":236,"v":5138},{"s":"2022","d":243,"v":5191},{"s":"2022","d":250,"v":4553},{"s":"2022","d":257,"v":5165},{"s":"2022","d":264,"v":5457},{"s":"2022","d":271,"v":5766},{"s":"2022","d":278,"v":5644},{"s":"2022","d":285,"v":5112},{"s":"2022","d":292,"v":5096},{"s":"2022","d":299,"v":5181},{"s":"2022","d":306,"v":5617},{"s":"2022","d":313,"v":5058},{"s":"2022","d":320,"v":5005},{"s":"2022","d":327,"v":4968},{"s":"2022","d":334,"v":4830},{"s":"2022","d":341,"v":5245},{"s":"2022","d":348,"v":5324},{"s":"2022","d":355,"v":5234},{"s":"2022","d":362,"v":4340},
{"s":"2023","d":5,"v":4915},{"s":"2023","d":12,"v":5032},{"s":"2023","d":19,"v":4989},{"s":"2023","d":26,"v":4686},{"s":"2023","d":33,"v":4915},{"s":"2023","d":40,"v":4899},{"s":"2023","d":47,"v":4755},{"s":"2023","d":54,"v":4776},{"s":"2023","d":61,"v":4643}
]
},
"vconcat": [
{
"spacing": 19,
"resolve": {"scale": {"color": "independent", "strokeDash": "independent"}, "legend": {"color": "independent", "strokeDash": "independent"}},
"hconcat": [
{
"width": 443, "height": 300,
"title": {"text": "中国炼厂开工情况", "anchor": "middle", "frame": "group", "offset": -37, "baseline": "middle", "fontSize": 17, "fontWeight": "normal", "color": "#595959", "font": "Noto Sans CJK SC"},
"data": {"name": "p1"},
"mark": {"type": "line", "strokeWidth": 2.2},
"encoding": {
"x": {"field": "d", "type": "temporal",
 "scale": {"type": "utc", "domain": [{"year": 2020, "month": 7, "date": 31, "utc": true}, {"year": 2023, "month": 3, "date": 12, "utc": true}], "range": [50, 421]},
 "axis": {"title": null, "offset": -90, "format": "%Y-%m-%d", "labelAngle": -45, "labelAlign": "right", "labelBaseline": "middle", "labelFontSize": 10, "labelFont": "Liberation Sans", "labelPadding": 3, "tickSize": 4,
  "values": [{"year":2020,"month":7,"date":31,"utc":true},{"year":2020,"month":9,"date":30,"utc":true},{"year":2020,"month":11,"date":30,"utc":true},{"year":2021,"month":1,"date":31,"utc":true},{"year":2021,"month":3,"date":31,"utc":true},{"year":2021,"month":5,"date":31,"utc":true},{"year":2021,"month":7,"date":31,"utc":true},{"year":2021,"month":9,"date":30,"utc":true},{"year":2021,"month":11,"date":30,"utc":true},{"year":2022,"month":1,"date":31,"utc":true},{"year":2022,"month":3,"date":31,"utc":true},{"year":2022,"month":5,"date":31,"utc":true},{"year":2022,"month":7,"date":31,"utc":true},{"year":2022,"month":9,"date":30,"utc":true},{"year":2022,"month":11,"date":30,"utc":true},{"year":2023,"month":1,"date":31,"utc":true}]}},
"y": {"field": "v", "type": "quantitative",
 "scale": {"domain": [45, 90], "range": [210, 53], "nice": false, "zero": false},
 "axis": {"title": "%", "titleAngle": 0, "titleX": -32, "titleY": 17, "titleAlign": "center", "titleBaseline": "middle", "titleFontSize": 10, "titleFontWeight": "normal", "titleColor": "#595959", "offset": -50, "values": [45,50,55,60,65,70,75,80,85,90], "domain": false, "ticks": false, "labelPadding": 8, "labelFontSize": 11, "labelFont": "Liberation Sans"}},
"color": {"field": "s", "type": "nominal",
 "scale": {"domain": ["主营炼厂", "中国独立炼厂", "山东独立炼厂"], "range": ["#ED7D31", "#FF0000", "#7030A0"]},
 "legend": {"title": null, "orient": "none", "legendX": 75, "legendY": 270, "direction": "horizontal", "symbolType": "stroke", "symbolSize": 529, "symbolStrokeWidth": 2.5, "labelFontSize": 10, "labelFont": "Noto Sans CJK SC", "columnPadding": 20, "labelOffset": 4}}
}
},
{
"width": 435, "height": 300,
"title": {"text": "北京拥堵延时指数MA7", "anchor": "middle", "frame": "group", "offset": -39, "baseline": "middle", "fontSize": 17, "fontWeight": "bold", "color": "#404040", "font": "Noto Sans CJK SC"},
"data": {"name": "p2"},
"encoding": {
"x": {"field": "d", "type": "quantitative",
 "scale": {"domain": [0, 365], "range": [45.5, 418], "nice": false, "zero": false},
 "axis": {"title": null, "offset": -69, "values": [0,31,59,90,120,151,181,212,243,273,304,334], "labelExpr": "(indexof([0,31,59,90,120,151,181,212,243,273,304,334], datum.value) + 1) + '/1'", "ticks": false, "labelFont": "Liberation Sans", "labelFontSize": 11, "labelFontWeight": "bold", "labelPadding": 7}},
"y": {"field": "v", "type": "quantitative",
 "scale": {"domain": [1, 2.3], "range": [231, 53.3], "nice": false, "zero": false},
 "axis": {"title": null, "offset": -45.5, "values": [1,1.2,1.4,1.6,1.8,2,2.2], "format": ".0f", "domain": true, "ticks": true, "tickSize": 4, "labelPadding": 12, "labelFont": "Liberation Sans", "labelFontSize": 11, "labelFontWeight": "bold"}},
"color": {"field": "s", "type": "nominal",
 "scale": {"domain": ["2019","2020","2021","2022","2023"], "range": ["#4472C4","#ED7D31","#7030A0","#000000","#FF0000"]},
 "legend": {"title": null, "orient": "none", "legendX": 36, "legendY": 262, "direction": "horizontal", "symbolType": "stroke", "symbolSize": 1225, "symbolStrokeWidth": 3, "labelFontSize": 11, "labelFont": "Liberation Sans", "labelFontWeight": "bold", "columnPadding": 7, "labelOffset": 5}},
"strokeDash": {"field": "s", "type": "nominal",
 "scale": {"domain": ["2019","2020","2021","2022","2023"], "range": [[1,0],[1,0],[1,0],[6,4],[1,0]]},
 "legend": {"title": null, "orient": "none", "legendX": 36, "legendY": 262, "direction": "horizontal", "symbolType": "stroke", "symbolSize": 1225, "symbolStrokeWidth": 3, "labelFontSize": 11, "labelFont": "Liberation Sans", "labelFontWeight": "bold", "columnPadding": 7, "labelOffset": 5}}
},
"layer": [
 {"transform": [{"filter": "datum.s != '2023'"}], "mark": {"type": "line", "strokeWidth": 2}},
 {"transform": [{"filter": "datum.s == '2023'"}], "mark": {"type": "line", "strokeWidth": 3}}
]
}
]
},
{
"spacing": 16,
"resolve": {"scale": {"color": "independent", "strokeDash": "independent"}, "legend": {"color": "independent", "strokeDash": "independent"}},
"hconcat": [
{
"width": 443, "height": 299,
"title": {"text": "油价与美国商业原油库存", "anchor": "middle", "frame": "group", "offset": 0, "dy": 37, "baseline": "middle", "fontSize": 17, "fontWeight": "normal", "color": "#595959", "font": "Noto Sans CJK SC"},
"data": {"name": "p3"},
"encoding": {
"x": {"field": "d", "type": "temporal",
 "scale": {"type": "utc", "domain": [{"year": 2015, "month": 1, "date": 2, "utc": true}, {"year": 2023, "month": 3, "date": 5, "utc": true}], "range": [42, 396.7]},
 "axis": {"title": null, "offset": -92, "format": "%Y/%-m/%-d", "labelAngle": -45, "labelAlign": "right", "labelBaseline": "middle", "labelFontSize": 10, "labelFont": "Liberation Sans", "labelPadding": 3, "tickSize": 4,
  "values": [{"year":2015,"month":1,"date":2,"utc":true},{"year":2016,"month":1,"date":2,"utc":true},{"year":2017,"month":1,"date":2,"utc":true},{"year":2018,"month":1,"date":2,"utc":true},{"year":2019,"month":1,"date":2,"utc":true},{"year":2020,"month":1,"date":2,"utc":true},{"year":2021,"month":1,"date":2,"utc":true},{"year":2022,"month":1,"date":2,"utc":true},{"year":2023,"month":1,"date":2,"utc":true}]}},
"color": {"field": "s", "type": "nominal",
 "scale": {"domain": ["美油", "美国商业原油库存(右)"], "range": ["#C0504D", "#4F81BD"]},
 "legend": {"title": null, "orient": "none", "legendX": 127, "legendY": 270, "direction": "horizontal", "symbolType": "stroke", "symbolSize": 441, "symbolStrokeWidth": 3, "labelFontSize": 10, "labelFont": "Noto Sans CJK SC", "columnPadding": 11, "labelOffset": 4}}
},
"layer": [
 {"transform": [{"filter": "datum.s == '美油'"}], "mark": {"type": "line", "strokeWidth": 2.4},
  "encoding": {"y": {"field": "v", "type": "quantitative",
   "scale": {"domain": [0, 140], "range": [207, 53], "nice": false, "zero": false},
   "axis": {"title": "美元/桶", "titleAngle": 0, "titleX": -10, "titleY": 29, "titleAlign": "center", "titleBaseline": "middle", "titleFontSize": 11, "titleFontWeight": "normal", "titleColor": "#595959", "titleFont": "Noto Sans CJK SC", "orient": "left", "offset": -42, "values": [0,20,40,60,80,100,120,140], "domain": false, "ticks": false, "grid": true, "gridColor": "#d9d9d9", "gridWidth": 1, "labelPadding": 13, "labelFontSize": 11, "labelFont": "Liberation Sans"}}}},
 {"transform": [{"filter": "datum.s != '美油'"}], "mark": {"type": "line", "strokeWidth": 2.4},
  "encoding": {"y": {"field": "v", "type": "quantitative",
   "scale": {"domain": [200000, 600000], "range": [53, 207], "nice": false, "zero": false},
   "axis": {"title": "千桶", "titleAngle": 0, "titleX": 26, "titleY": 32, "titleAlign": "center", "titleBaseline": "middle", "titleFontSize": 11, "titleFontWeight": "normal", "titleColor": "#595959", "titleFont": "Noto Sans CJK SC", "orient": "right", "offset": -46, "values": [200000,250000,300000,350000,400000,450000,500000,550000,600000], "format": "d", "domain": false, "ticks": false, "grid": false, "labelPadding": 8, "labelFontSize": 11, "labelFont": "Liberation Sans"}}}}
],
"resolve": {"scale": {"y": "independent"}, "axis": {"y": "independent"}}
},
{
"width": 435, "height": 299,
"title": {"text": "美国馏分油表观消费量", "anchor": "middle", "frame": "group", "offset": 0, "dy": 44, "baseline": "middle", "fontSize": 18, "fontWeight": "bold", "color": "#404040", "font": "Noto Sans CJK SC"},
"data": {"name": "p4"},
"mark": {"type": "line", "strokeWidth": 2.6},
"encoding": {
"x": {"field": "d", "type": "quantitative",
 "scale": {"domain": [0, 365], "range": [49, 420.6], "nice": false, "zero": false},
 "axis": {"title": null, "offset": -56.7, "values": [0,31,59,90,120,151,181,212,243,273,304,334], "labelExpr": "(indexof([0,31,59,90,120,151,181,212,243,273,304,334], datum.value) + 1) + '/1'", "ticks": false, "domainWidth": 1.5, "labelFont": "Liberation Sans", "labelFontSize": 11, "labelFontWeight": "bold", "labelPadding": 8}},
"y": {"field": "v", "type": "quantitative",
 "scale": {"domain": [3000, 6000], "range": [242.3, 54.3], "nice": false, "zero": false},
 "axis": {"title": "千桶/天", "titleAngle": 0, "titleX": -7, "titleY": 22, "titleAlign": "center", "titleBaseline": "middle", "titleFontSize": 13, "titleFontWeight": "bold", "titleColor": "#000000", "titleFont": "Noto Sans CJK SC", "offset": -49, "values": [3000,3500,4000,4500,5000,5500,6000], "format": "d", "domain": false, "ticks": false, "labelPadding": 16, "labelFont": "Liberation Sans", "labelFontSize": 11, "labelFontWeight": "bold"}},
"color": {"field": "s", "type": "nominal",
 "scale": {"domain": ["2019","2020","2021","2022","2023"], "range": ["#5B9BD5","#ED7D31","#A5A5A5","#000000","#FF0000"]},
 "legend": {"title": null, "orient": "none", "legendX": 31, "legendY": 265, "direction": "horizontal", "symbolType": "stroke", "symbolSize": 1024, "symbolStrokeWidth": 3, "labelFontSize": 11, "labelFont": "Liberation Sans", "labelFontWeight": "bold", "columnPadding": 11, "labelOffset": 6}},
"strokeDash": {"field": "s", "type": "nominal",
 "scale": {"domain": ["2019","2020","2021","2022","2023"], "range": [[8,5],[8,5],[8,5],[1,0],[1,0]]},
 "legend": {"title": null, "orient": "none", "legendX": 31, "legendY": 265, "direction": "horizontal", "symbolType": "stroke", "symbolSize": 1024, "symbolStrokeWidth": 3, "labelFontSize": 11, "labelFont": "Liberation Sans", "labelFontWeight": "bold", "columnPadding": 11, "labelOffset": 6}}
}
}
]
}
]
}
